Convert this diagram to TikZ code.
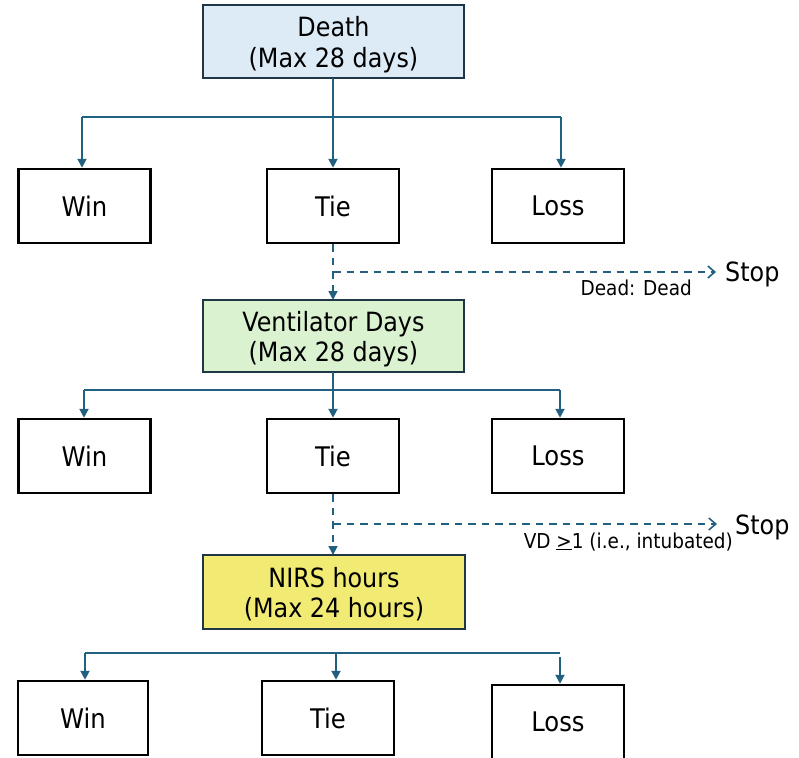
\documentclass[tikz,border=0pt]{standalone}
\usepackage{fontspec}
\setmainfont{DejaVu Sans Condensed}
\usetikzlibrary{arrows.meta}

\definecolor{flowblue}{HTML}{22607F}
\definecolor{boxedge}{HTML}{1E3646}
\definecolor{deathfill}{HTML}{DDEBF7}
\definecolor{ventfill}{HTML}{DAF2D0}
\definecolor{nirsfill}{HTML}{F2EB73}

\tikzset{
  stage/.style={draw=boxedge, line width=2.3pt, minimum width=261pt, minimum height=73pt,
    inner sep=0pt},
  stagetext/.style={align=center, inner sep=0pt, font=\fontsize{26.5}{30.5}\selectfont},
  outcome/.style={draw=black, line width=2.5pt, minimum width=132pt, minimum height=74pt,
    inner sep=0pt, font=\fontsize{27}{31}\selectfont},
  conn/.style={draw=flowblue, line width=2pt},
  arr/.style={conn, -{Triangle[length=9pt,width=9pt]}},
  stopline/.style={draw=flowblue, line width=1.6pt, dash pattern=on 7.5pt off 6pt,
    -{Straight Barb[length=7pt,width=12pt,line width=1.6pt]}},
  dasharr/.style={draw=flowblue, line width=1.6pt, dash pattern=on 7.5pt off 6pt,
    -{Triangle[length=9pt,width=9pt]}},
  stoptext/.style={anchor=base west, inner sep=0pt, font=\fontsize{26.5}{31}\selectfont},
  note/.style={anchor=base east, inner sep=0pt, font=\fontsize{20.5}{24}\selectfont},
}

\begin{document}
\begin{tikzpicture}[x=1pt,y=-1pt]
  \useasboundingbox (0,0) rectangle (799,757);
  \clip (0,0) rectangle (799,757);

  % ---- stage 1: death ----
  \node[stage, fill=deathfill] (death) at (333.5,41.5) {};
  \node[stagetext] (deathtext) at ([yshift=-3pt]death.center) {Death\\(Max 28 days)};
  \node[outcome] (win1)  at (84.5,206) {Win};
  \node[outcome] (tie1)  at (333,206)  {Tie};
  \node[outcome] (loss1) at (558,206)  {Loss};
  \coordinate (d1) at (333,78);
  \coordinate (w1) at (82,117);
  \coordinate (l1) at (561,117);
  \draw[conn] (d1) -- (333,117);
  \draw[arr] (333,117) -- (tie1.north);
  \draw[conn] (w1) -- (l1);
  \draw[arr] (w1) -- (w1 |- win1.north);
  \draw[arr] (l1) -- (l1 |- loss1.north);

  % ---- stage 2: ventilator days ----
  \node[stage, fill=ventfill, minimum height=72pt] (vent) at (333.5,336) {};
  \node[stagetext] (venttext) at ([yshift=-3pt]vent.center) {Ventilator Days\\(Max 28 days)};
  \draw[dasharr] (tie1.south) -- (333,300);
  \coordinate (s1a) at (333,272);
  \coordinate (s1b) at (716,272);
  \draw[stopline] (s1a) -- (s1b);
  \node[stoptext] (stop1) at (725,281) {Stop};
  \node[note] (dead) at (692,295) {Dead: Dead};

  \node[outcome] (win2)  at (84.5,456) {Win};
  \node[outcome] (tie2)  at (333,456)  {Tie};
  \node[outcome] (loss2) at (558,456)  {Loss};
  \coordinate (w2) at (84,390);
  \coordinate (l2) at (560,390);
  \draw[conn] (333,372) -- (333,390);
  \draw[arr] (333,390) -- (tie2.north);
  \draw[conn] (w2) -- (l2);
  \draw[arr] (w2) -- (w2 |- win2.north);
  \draw[arr] (l2) -- (l2 |- loss2.north);

  % ---- stage 3: NIRS hours ----
  \node[stage, fill=nirsfill, minimum width=262pt, minimum height=74pt] (nirs) at (334,592) {};
  \node[stagetext] (nirstext) at ([yshift=-2pt]nirs.center) {NIRS hours\\(Max 24 hours)};
  \draw[dasharr] (tie2.south) -- (333,555);
  \coordinate (s2a) at (333,524);
  \coordinate (s2b) at (717,524);
  \draw[stopline] (s2a) -- (s2b);
  \node[stoptext] (stop2) at (735,534) {Stop};
  \node[note] (vd) at (733,548) {VD \underline{>}1 (i.e., intubated)};

  \node[outcome, minimum width=130pt] (win3)  at (83,718)  {Win};
  \node[outcome] (tie3)  at (328,718)  {Tie};
  \node[outcome] (loss3) at (558,722)  {Loss};
  \coordinate (j3w) at (85,653);
  \coordinate (j3t) at (336,653);
  \coordinate (j3e) at (560,653);
  \coordinate (j3l) at (560,657);
  \draw[conn] (j3w) -- (j3e);
  \draw[arr] (j3w) -- (j3w |- win3.north);
  \draw[arr] (j3t) -- (j3t |- tie3.north);
  \draw[arr] (j3l) -- (j3l |- loss3.north);
\end{tikzpicture}
\end{document}
